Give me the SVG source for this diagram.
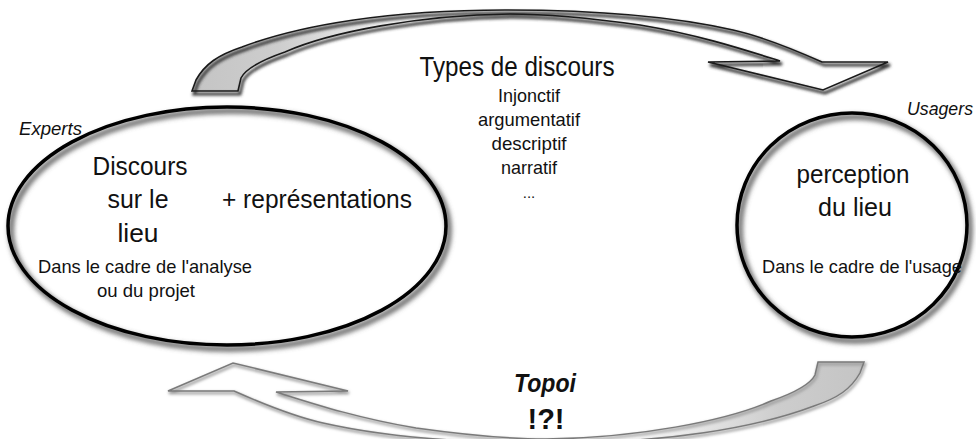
<svg xmlns="http://www.w3.org/2000/svg" xmlns:xlink="http://www.w3.org/1999/xlink" width="976" height="439" viewBox="0 0 976 439">
<defs>
<style>
text { font-family: "Liberation Sans", Arial, sans-serif; fill: #111; }
.c { text-anchor: middle; }
.it { font-style: italic; }
.big { font-size: 26px; }
.mid { font-size: 19px; }
.ring { fill: none; stroke: #000; stroke-width: 3.5; }
.bg { fill: #fff; stroke: none; }
.sh { fill: none; stroke: #5a5a5a; stroke-width: 5; filter: url(#blur); }
</style>
<filter id="blur" x="-20%" y="-20%" width="140%" height="140%"><feGaussianBlur stdDeviation="2.5"/></filter>
<filter id="blur2" x="-20%" y="-20%" width="140%" height="140%"><feGaussianBlur stdDeviation="1.8"/></filter>
<linearGradient id="tailGrad" gradientUnits="userSpaceOnUse" x1="190" y1="0" x2="440" y2="0">
<stop offset="0" stop-color="#c4c4c4"/>
<stop offset="0.35" stop-color="#cdcdcd"/>
<stop offset="1" stop-color="#ffffff"/>
</linearGradient>
<path id="arrowShape" d="M192,91 L196,80 C205,64 218,55 242,47 C300,25 390,10 505,10 C600,10 680,18 733,30 C760,36 795,50 822,62 L888,62 L823,90 L708,62 L780,61 C745,50 700,35 640,25 C590,18 550,14 510,14 C420,15 330,32 285,52 C262,60 246,68 241,78 L238,91 Z"/>
</defs>

<g id="connectors">
<g id="arrow-top">
<use xlink:href="#arrowShape" fill="url(#tailGrad)" stroke="none"/>
<use xlink:href="#arrowShape" fill="none" stroke="#333" stroke-width="3" transform="translate(2,3)" filter="url(#blur2)"/>
<use xlink:href="#arrowShape" fill="none" stroke="#1a1a1a" stroke-width="1.6"/>
</g>
<g id="arrow-bottom">
<use xlink:href="#arrowShape" fill="url(#tailGrad)" stroke="none" transform="rotate(180 528 226.5)"/>
<use xlink:href="#arrowShape" fill="none" stroke="#999" stroke-width="2.5" transform="translate(1,2) rotate(180 528 226.5)" filter="url(#blur2)"/>
<use xlink:href="#arrowShape" fill="none" stroke="#7a7a7a" stroke-width="1.5" transform="rotate(180 528 226.5)"/>
</g>
</g>

<g id="experts">
<ellipse class="bg" cx="227" cy="226" rx="219" ry="119"/>
<ellipse class="sh" cx="230" cy="230" rx="219" ry="119"/>
<ellipse class="ring" cx="227" cy="226" rx="219" ry="119"/>
<text class="it" x="19" y="135" font-size="18" textLength="63" lengthAdjust="spacingAndGlyphs">Experts</text>
<text class="c big" x="140" y="175" textLength="95" lengthAdjust="spacingAndGlyphs">Discours</text>
<text class="c big" x="138" y="208" textLength="61" lengthAdjust="spacingAndGlyphs">sur le</text>
<text class="c big" x="138" y="242" textLength="41" lengthAdjust="spacingAndGlyphs">lieu</text>
<text class="c big" x="317" y="208" textLength="190" lengthAdjust="spacingAndGlyphs">+ représentations</text>
<text class="c mid" x="145" y="273" textLength="214" lengthAdjust="spacingAndGlyphs">Dans le cadre de l'analyse</text>
<text class="c mid" x="146" y="297" textLength="98" lengthAdjust="spacingAndGlyphs">ou du projet</text>
</g>

<g id="usagers">
<ellipse class="bg" cx="852" cy="225" rx="115" ry="112"/>
<ellipse class="sh" cx="855" cy="229" rx="115" ry="112"/>
<ellipse class="ring" cx="852" cy="225" rx="115" ry="112"/>
<text class="it" x="907" y="115" font-size="18" textLength="66" lengthAdjust="spacingAndGlyphs">Usagers</text>
<text class="c big" x="853" y="183" textLength="113" lengthAdjust="spacingAndGlyphs">perception</text>
<text class="c big" x="855" y="216" textLength="74" lengthAdjust="spacingAndGlyphs">du lieu</text>
<text class="c mid" x="862" y="273" textLength="200" lengthAdjust="spacingAndGlyphs">Dans le cadre de l'usage</text>
</g>

<g id="types">
<text class="c" x="517" y="76" font-size="27" textLength="195" lengthAdjust="spacingAndGlyphs">Types de discours</text>
<text class="c mid" x="529" y="102" textLength="62" lengthAdjust="spacingAndGlyphs">Injonctif</text>
<text class="c mid" x="529" y="126" textLength="102" lengthAdjust="spacingAndGlyphs">argumentatif</text>
<text class="c mid" x="529" y="150" textLength="75" lengthAdjust="spacingAndGlyphs">descriptif</text>
<text class="c mid" x="529" y="174" textLength="56" lengthAdjust="spacingAndGlyphs">narratif</text>
<text class="c" x="529" y="198" font-size="15">...</text>
</g>

<g id="topoi">
<text class="c" x="545" y="392" font-size="25" font-weight="bold" font-style="italic" textLength="62" lengthAdjust="spacingAndGlyphs">Topoi</text>
<text class="c" x="546" y="429" font-size="29" font-weight="bold">!?!</text>
</g>
</svg>
